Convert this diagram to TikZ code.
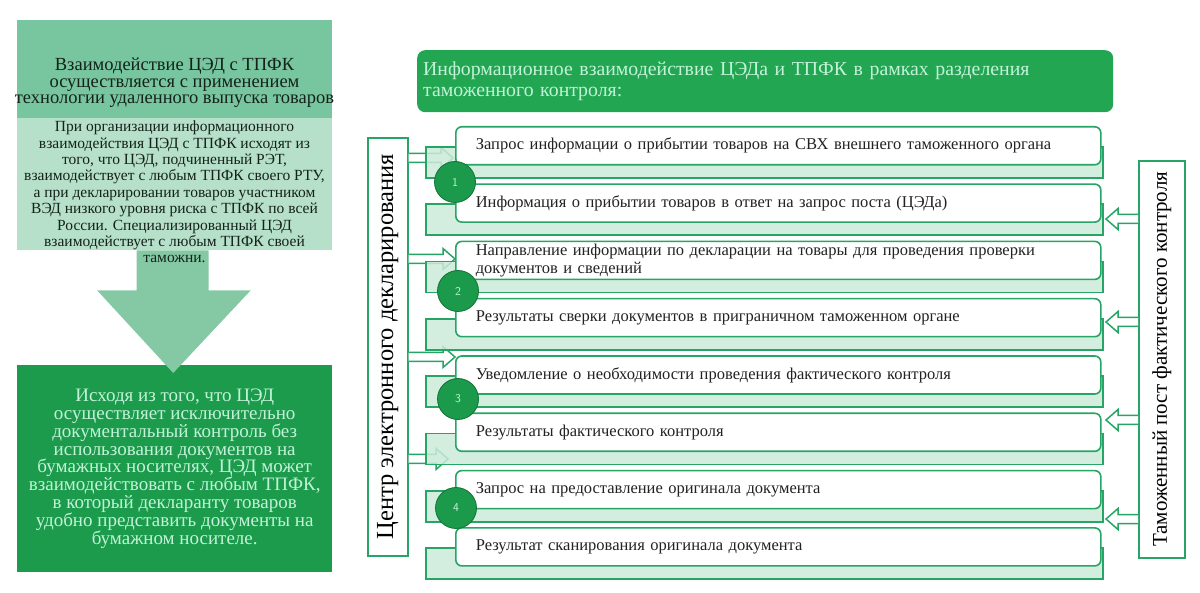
\documentclass[tikz,border=0pt]{standalone}
\usepackage{fontspec}
\usepackage{graphicx}
\setmainfont{Liberation Serif}
\usetikzlibrary{calc,arrows.meta,positioning}
\def\hollowarrow[#1](#2)(#3){\draw[hollow] ($(#2)+(0,-4.5)$) -- ($(#3)+({-#1*12},-4.5)$) -- ($(#3)+({-#1*12},-10.5)$) -- (#3) -- ($(#3)+({-#1*12},10.5)$) -- ($(#3)+({-#1*12},4.5)$) -- ($(#2)+(0,4.5)$);}

\definecolor{headgreen}{HTML}{78C69F}
\definecolor{palegreen}{HTML}{B6E0C9}
\definecolor{arrowgreen}{HTML}{85C9A4}
\definecolor{deepgreen}{HTML}{1C9B4C}
\definecolor{titlegreen}{HTML}{22A652}
\definecolor{mint}{HTML}{C2F3D8}
\definecolor{linegreen}{HTML}{27A566}
\definecolor{bandgreen}{HTML}{CBEAD8}
\definecolor{dotgreen}{HTML}{1A9A4A}
\definecolor{darktext}{HTML}{222222}
\definecolor{headtext}{HTML}{14221B}

\tikzset{
	panel/.style={anchor=north west, inner sep=0pt, minimum width=315pt},
	rowbox/.style={draw=linegreen, line width=1.6pt, fill=white, rounded corners=6pt, anchor=north west, minimum width=645pt, minimum height=38pt, text width=605pt, inner xsep=20pt, inner ysep=2pt, align=left, text=darktext, font=\fontsize{16.5}{17.5}\selectfont},
	band/.style={draw=linegreen, line width=1.6pt, fill=bandgreen, fill opacity=0.85},
	numdot/.style={circle, draw=dotgreen!75!black, line width=0.8pt, fill=dotgreen, minimum size=41pt, inner sep=0pt, text=mint, font=\sffamily\fontsize{12}{12}\selectfont},
	sidebox/.style={draw=linegreen, line width=1.6pt, fill=white, inner sep=0pt, anchor=north west},
	hollow/.style={draw=linegreen, line width=1.5pt, fill=white, line join=miter},
}

\begin{document}
\begin{tikzpicture}[x=1pt, y=-1pt]
	%%%%% START %%%%%
	\useasboundingbox (0,0) rectangle (1200,593);
	
	% left column
	\node[panel, fill=headgreen, minimum height=98pt] (head) at (17,20) {};
	\node[panel, fill=palegreen, minimum height=132pt] (body) at (17,118) {};
	\node[panel, fill=deepgreen, minimum height=207pt, text=mint, align=center, font=\fontsize{19}{17.8}\selectfont] (outcome) at (17,365) {Исходя из того, что ЦЭД\\осуществляет исключительно\\документальный контроль без\\использования документов на\\бумажных носителях, ЦЭД может\\взаимодействовать с любым ТПФК,\\в который декларанту товаров\\удобно представить документы на\\бумажном носителе.};
	\fill[arrowgreen] ($(body.south)+(-38,0)$) -- ++(72,0) -- ++(0,40) -- ++(42,0) -- ($(outcome.north)+(-1.5,8)$) -- ($(body.south)+(-77.5,40)$) -- ++(39.5,0) -- cycle;
	\node[text=headtext, align=center, font=\fontsize{18.5}{16.5}\selectfont] (headtxt) at (174.5,83) {Взаимодействие ЦЭД с ТПФК\\осуществляется с применением\\технологии удаленного выпуска товаров};
	\node[text=headtext, align=center, font=\fontsize{15.5}{16.4}\selectfont] (bodytxt) at (174.5,192) {При организации информационного\\взаимодействия ЦЭД с ТПФК исходят из\\того, что ЦЭД, подчиненный РЭТ,\\взаимодействует с любым ТПФК своего РТУ,\\а при декларировании товаров участником\\ВЭД низкого уровня риска с ТПФК по всей\\России. Специализированный ЦЭД\\взаимодействует с любым ТПФК своей\\таможни.};
	
	% title
	\node[anchor=north west, fill=titlegreen, rounded corners=8pt, minimum width=696pt, minimum height=62pt, text width=684pt, inner xsep=6pt, align=left, text=mint, font=\fontsize{19.8}{21}\selectfont] (title) at (417,50) {Информационное взаимодействие ЦЭДа и ТПФК в рамках разделения\\таможенного контроля:};
	
	% side columns
	\node[sidebox, minimum width=40pt, minimum height=418pt] (ced) at (367,137) {\rotatebox{90}{\fontsize{24.5}{24.5}\selectfont Центр электронного декларирования}};
	\node[sidebox, minimum width=46pt, minimum height=397pt] (post) at (1138,160) {\rotatebox{90}{\fontsize{21}{21}\selectfont Таможенный пост фактического контроля}};
	
	\coordinate (in1) at (453,158);
	\coordinate (in2) at (455,259);
	\coordinate (in3) at (455,357);
	\coordinate (in4) at (448,459);
	\coordinate (back1) at (1106,219);
	\coordinate (back2) at (1106,322);
	\coordinate (back3) at (1106,420);
	\coordinate (back4) at (1106,519);
	\foreach \k in {1,...,4}{
		\hollowarrow[1](ced.east |- in\k)(in\k)
		\hollowarrow[-1](post.west |- back\k)(back\k)
	}
	
	% steps
	\foreach \i/\txt in {1/{Запрос информации о прибытии товаров на СВХ внешнего таможенного органа},
		2/{Информация о прибытии товаров в ответ на запрос поста (ЦЭДа)},
		3/{Направление информации по декларации на товары для проведения проверки\\документов и сведений},
		4/{Результаты сверки документов в приграничном таможенном органе},
		5/{Уведомление о необходимости проведения фактического контроля},
		6/{Результаты фактического контроля},
		7/{Запрос на предоставление оригинала документа},
		8/{Результат сканирования оригинала документа}}{
		\pgfmathsetmacro{\rowy}{126+57.3*(\i-1)}
		\draw[band] (426,\rowy+21) rectangle (1103,\rowy+52);
		\node[rowbox] (r\i) at (455,\rowy) {\txt};
	}
	
	\node[numdot] (n1) at (455,182) {1};
	\node[numdot] (n2) at (458,291) {2};
	\node[numdot] (n3) at (458,399) {3};
	\node[numdot] (n4) at (456,508) {4};
	
	%%%%% END %%%%%
\end{tikzpicture}
\end{document}
